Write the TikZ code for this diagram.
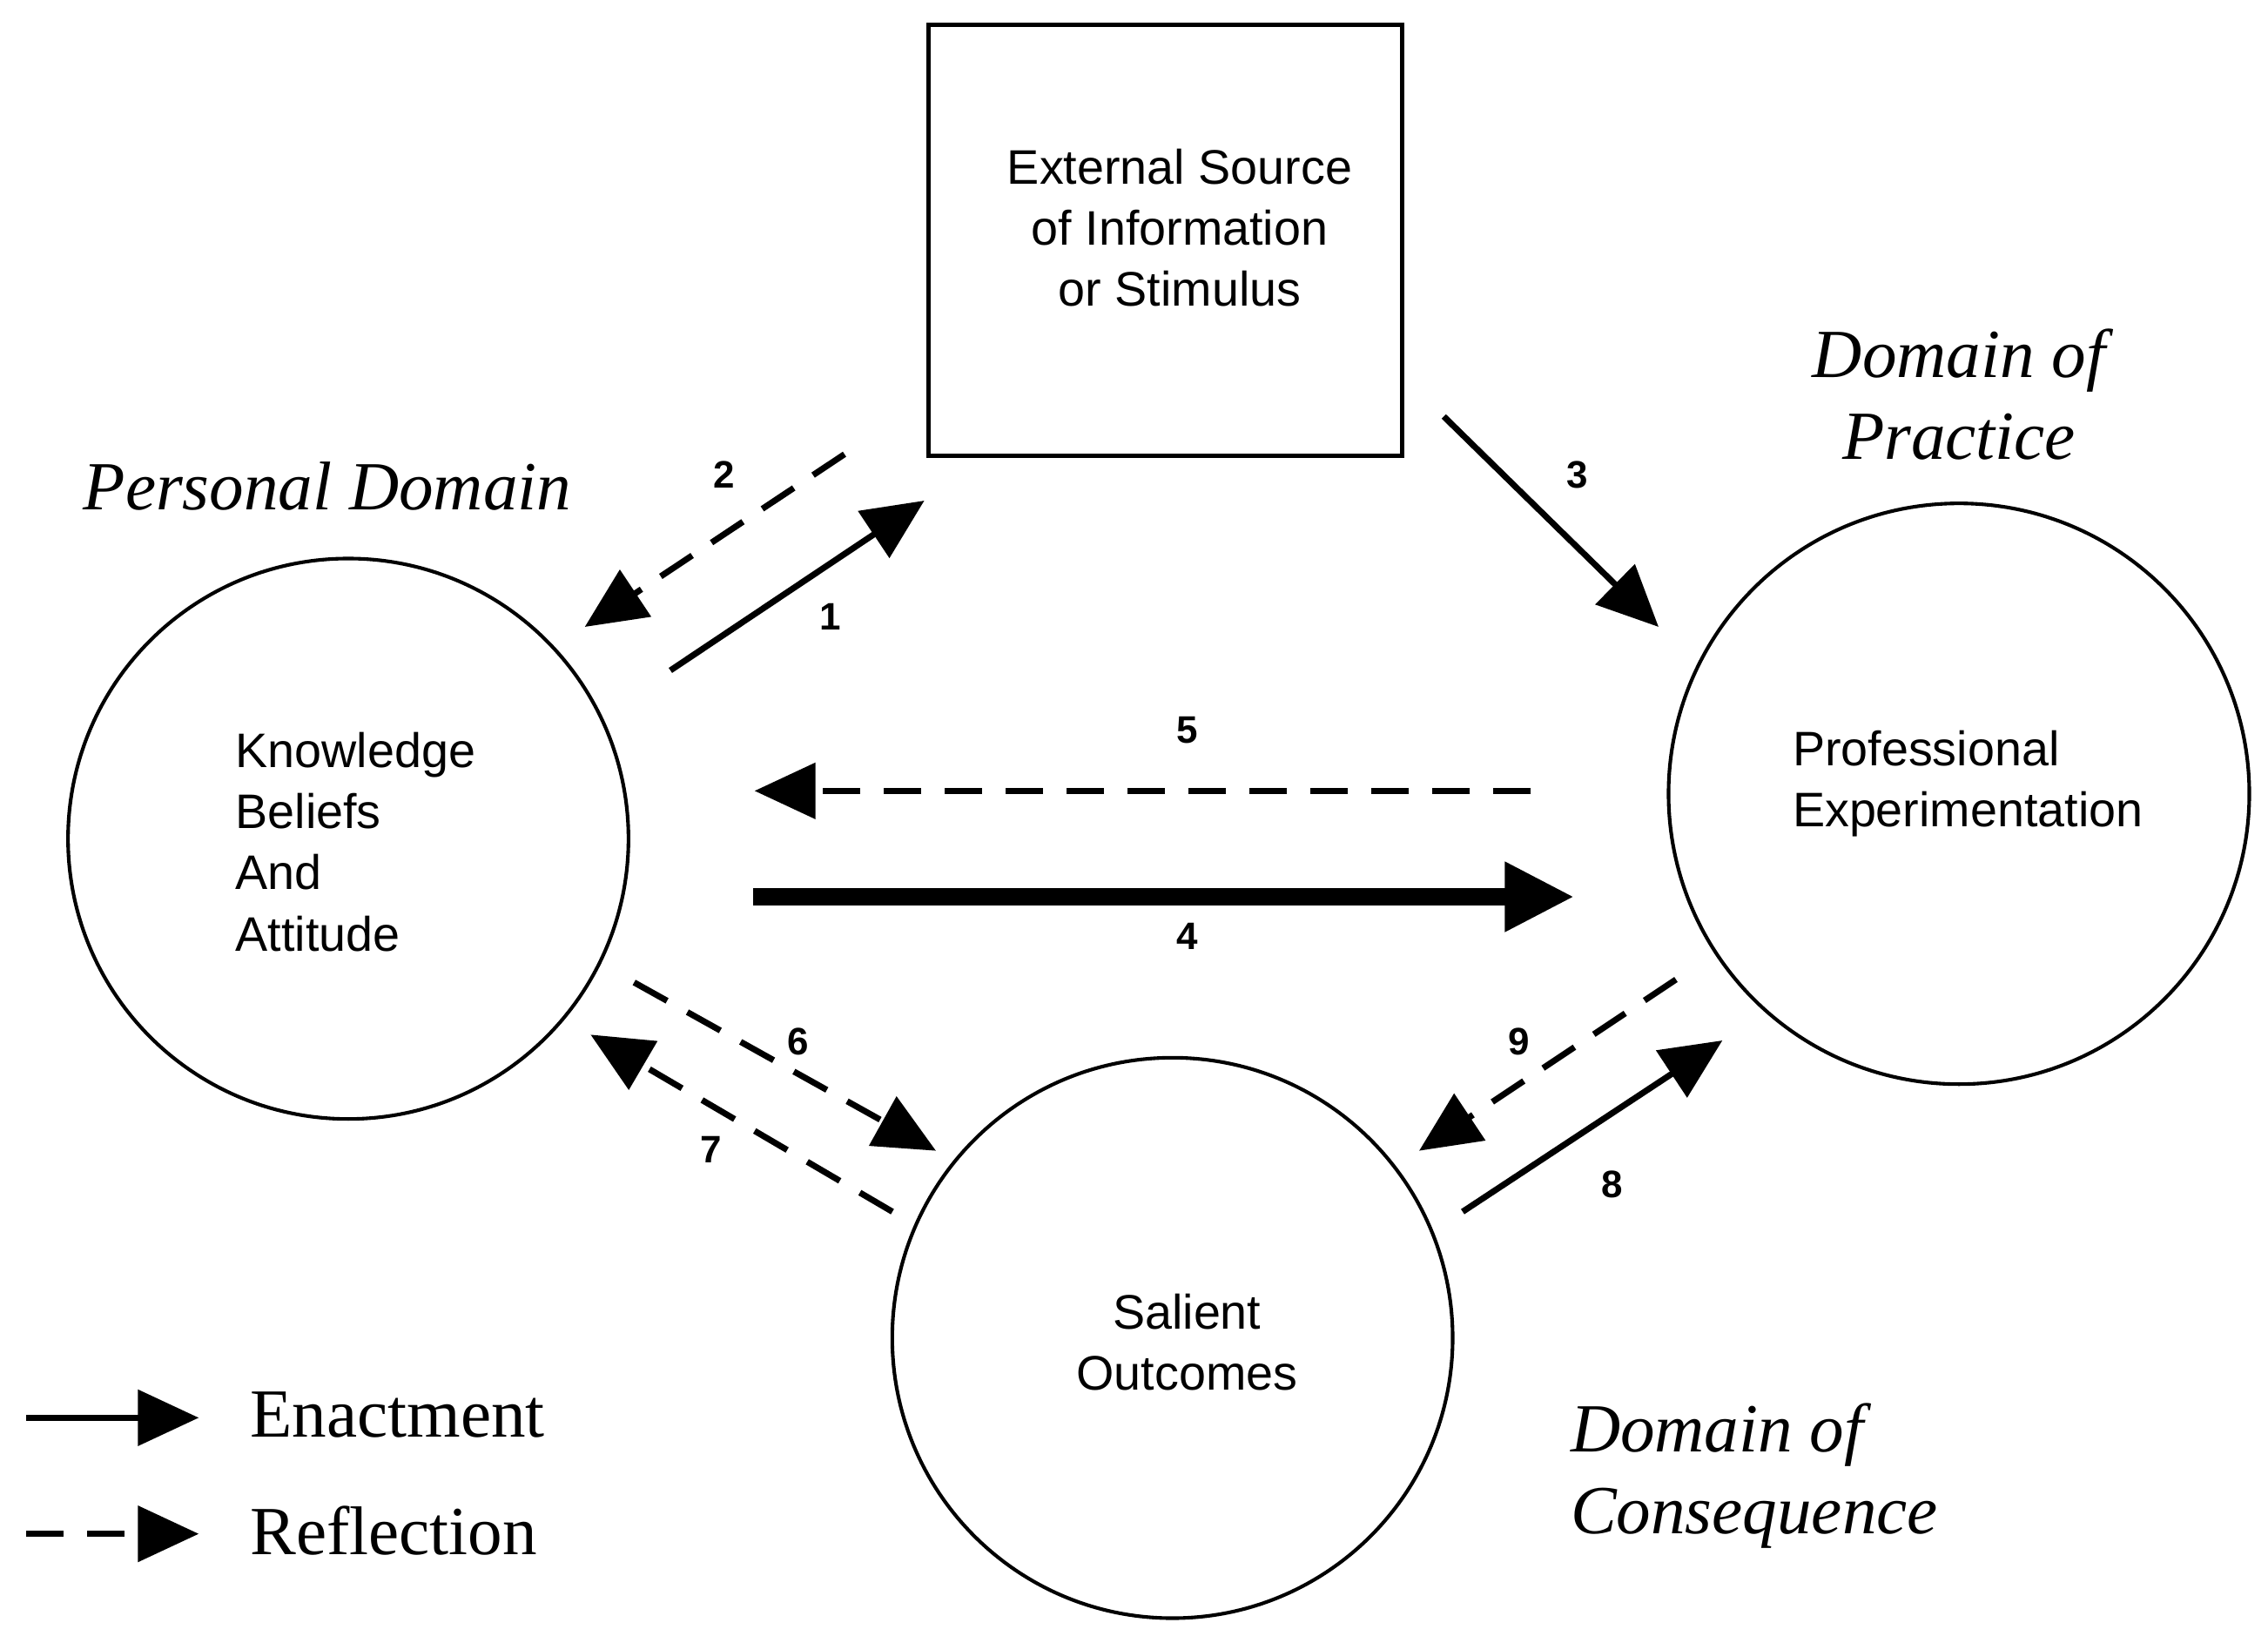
\documentclass[tikz,border=0pt]{standalone}
\usepackage{fontspec}
\setmainfont{Liberation Serif}
\setsansfont{Liberation Sans}
\usetikzlibrary{arrows.meta}
\begin{document}
\begin{tikzpicture}[x=0.01cm,y=-0.01cm,
  tip/.style={-{Triangle[length=0.42cm,width=0.38cm]}},
  en/.style={tip,line width=1.2pt},
  re/.style={tip,line width=1.2pt,dash pattern=on 0.26cm off 0.16cm},
  num/.style={font=\sffamily\bfseries\fontsize{7.5}{9}\selectfont},
  lab/.style={font=\sffamily\fontsize{9.5}{12}\selectfont},
  dom/.style={font=\itshape\fontsize{13.5}{16}\selectfont,align=center},
  circ/.style={draw,circle,line width=0.7pt}]
\useasboundingbox (0,0) rectangle (1563,1127);
\node[draw,line width=0.9pt,minimum width=3.26cm,minimum height=2.97cm] (box) at (803,165.5) {};
\node[lab,align=center] (boxt) at (813,157) {External Source\\of Information\\or Stimulus};
\node[circ,minimum size=3.86cm] (K) at (240,578) {};
\node[lab,align=left,anchor=west] (Kt) at (150,580) {Knowledge\\Beliefs\\And\\Attitude};
\node[circ,minimum size=4.0cm] (P) at (1350,547) {};
\node[lab,align=left,anchor=west] (Pt) at (1223,540) {Professional\\Experimentation};
\node[circ,minimum size=3.86cm] (S) at (808,922) {};
\node[lab,align=center] (St) at (818,925) {Salient\\Outcomes};
\node[dom,anchor=west] (d1) at (45,335) {Personal Domain};
\node[dom] (d2) at (1350,272) {Domain of\\Practice};
\node[dom,align=left,anchor=west] (d3) at (1070,1017) {Domain of\\Consequence};
\coordinate (a1s) at (462,462); \coordinate (a1e) at (637,345);
\coordinate (a2s) at (582,313); \coordinate (a2e) at (403,432);
\coordinate (a3s) at (995,287); \coordinate (a3e) at (1143,432);
\coordinate (a5s) at (1055,545); \coordinate (a5e) at (520,545);
\coordinate (a4s) at (519,618); \coordinate (a4e) at (1085,618);
\coordinate (a6s) at (437,677); \coordinate (a6e) at (645,793);
\coordinate (a7s) at (615,835); \coordinate (a7e) at (407,713);
\coordinate (a9s) at (1155,675); \coordinate (a9e) at (978,793);
\coordinate (a8s) at (1008,835); \coordinate (a8e) at (1187,717);
\draw[en] (a1s) -- (a1e);
\draw[re] (a2s) -- (a2e);
\draw[en] (a3s) -- (a3e);
\draw[re] (a5s) -- (a5e);
\draw[tip,line width=3.4pt,-{Triangle[length=0.48cm,width=0.45cm]}] (a4s) -- (a4e);
\draw[re] (a6s) -- (a6e);
\draw[re] (a7s) -- (a7e);
\draw[re] (a9s) -- (a9e);
\draw[en] (a8s) -- (a8e);
\node[num] (n1) at (572,425) {1};
\node[num] (n2) at (499,327) {2};
\node[num] (n3) at (1087,327) {3};
\node[num] (n5) at (818,503) {5};
\node[num] (n4) at (818,645) {4};
\node[num] (n6) at (550,718) {6};
\node[num] (n7) at (490,792) {7};
\node[num] (n9) at (1047,718) {9};
\node[num] (n8) at (1111,816) {8};
\coordinate (l1s) at (18,977); \coordinate (l1e) at (137,977);
\coordinate (l2s) at (18,1057); \coordinate (l2e) at (137,1057);
\draw[en] (l1s) -- (l1e);
\draw[re] (l2s) -- (l2e);
\node[anchor=west,font=\fontsize{13.5}{16}\selectfont] (le1) at (160,975) {Enactment};
\node[anchor=west,font=\fontsize{13.5}{16}\selectfont] (le2) at (160,1055) {Reflection};
\end{tikzpicture}
\end{document}
